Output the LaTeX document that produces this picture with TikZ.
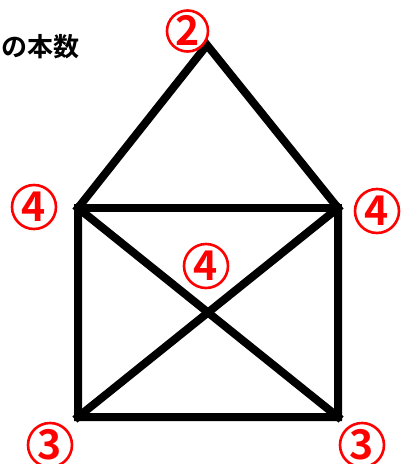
\documentclass[tikz,border=0pt]{standalone}
\usepackage{fontspec}
\newfontfamily\cjk{Noto Sans CJK JP}[BoldFont={Noto Sans CJK JP Bold}]
\begin{document}
\begin{tikzpicture}[x=1pt,y=-1pt,
  edge/.style={line width=8pt,line join=miter,line cap=rect},
  num/.style={circle,draw=red,line width=2.6pt,minimum size=44pt,inner sep=0pt,
    text=red,font=\cjk\bfseries\fontsize{41}{41}\selectfont,
    text height=29.5pt,text depth=0pt},
  title/.style={font=\cjk\bfseries\fontsize{26}{26}\selectfont,inner sep=0pt}]
\useasboundingbox (0,0) rectangle (402,464);
\coordinate (A) at (207,45);
\coordinate (LU) at (78,208);
\coordinate (RU) at (338,208);
\coordinate (LB) at (78,417);
\coordinate (RB) at (338,417);
\draw[edge] (LU) -- (A) -- (RU) -- (RB) -- (LB) -- cycle;
\draw[edge] (LU) -- (RU);
\draw[edge] (LU) -- (RB);
\draw[edge] (RU) -- (LB);
\node[title,anchor=east] (t) at (80,47) {の本数};
\node[num,minimum size=41pt] (n2) at (187.5,31) {2};
\node[num] (n4l) at (34,207) {4};
\node[num] (n4r) at (377,211) {4};
\node[num] (n4m) at (206,266) {4};
\node[num] (n3l) at (50,445) {3};
\node[num] (n3r) at (362,445) {3};
\end{tikzpicture}
\end{document}
